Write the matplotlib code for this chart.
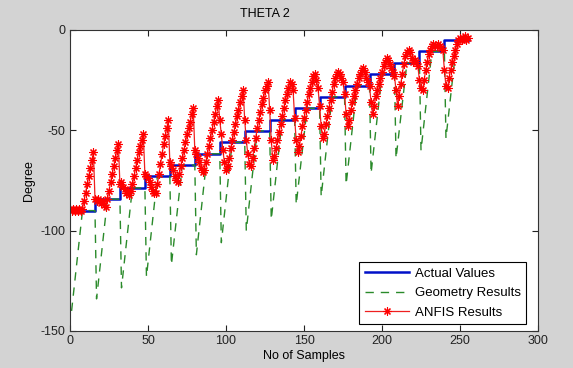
import numpy as np
import matplotlib
matplotlib.use('Agg')
import matplotlib.pyplot as plt

plt.rcParams['font.family'] = ['Liberation Sans', 'DejaVu Sans']
plt.rcParams['axes.unicode_minus'] = False

# step edges (samples) and the actual angle on each step
step_edges = [0, 16, 32, 48, 64, 80, 96, 112, 128, 144, 160, 176, 192, 208, 224, 240, 256]
actual_levels = [-90, -84.3, -78.7, -73, -67.3, -61.7, -56, -50.3,
                 -44.7, -39, -33.3, -27.7, -22, -16.3, -10.7, -5]

# geometry result: deepest value right after each step
geo_dips = [-140, -134, -128.5, -123, -117, -112, -106, -100,
            -94.5, -87, -83, -77, -71.4, -64, -60, -54]

# ANFIS output, one row per step (16 samples each)
anfis_rows = [
    [-89, -90, -89, -90, -89, -90, -89, -90, -89, -85, -81, -77, -73, -69, -65, -61],
    [-84, -85, -84, -85, -86, -85, -87, -88, -84, -80, -76, -72, -68, -64, -60, -57],
    [-77, -76, -78, -79, -81, -80, -82, -80, -77, -73, -69, -65, -61, -58, -55, -52],
    [-72, -73, -74, -76, -78, -80, -81, -81, -77, -72, -67, -62, -57, -53, -49, -45],
    [-66, -68, -70, -73, -75, -76, -72, -68, -64, -60, -56, -52, -49, -46, -42, -39],
    [-60, -62, -64, -66, -69, -71, -70, -66, -62, -58, -54, -50, -46, -42, -38, -35],
    [-45, -52, -60, -66, -70, -68, -64, -59, -55, -51, -47, -43, -40, -36, -33, -30],
    [-45, -55, -62, -67, -68, -64, -59, -54, -49, -45, -41, -37, -34, -30, -28, -26],
    [-40, -55, -65, -63, -59, -55, -51, -47, -43, -39, -35, -32, -29, -26, -27, -30],
    [-44, -55, -61, -58, -53, -48, -44, -40, -36, -32, -29, -26, -23, -22, -25, -29],
    [-38, -48, -54, -52, -47, -43, -39, -35, -31, -27, -24, -22, -21, -22, -24, -26],
    [-32, -42, -48, -45, -40, -36, -33, -30, -27, -24, -22, -20, -19, -21, -24, -26],
    [-28, -36, -42, -38, -33, -30, -27, -24, -21, -18, -16, -14, -15, -17, -19, -21],
    [-23, -30, -38, -33, -27, -22, -17, -13, -11, -10, -11, -14, -16, -15, -16, -18],
    [-25, -29, -30, -25, -20, -16, -12, -10, -8, -7, -8, -8, -7, -8, -9, -10],
    [-20, -28, -29, -24, -20, -16, -13, -10, -7, -5, -4, -5, -4, -3, -5, -4],
]

# actual values as a staircase
act_x = step_edges
act_y = actual_levels + [actual_levels[-1]]

# geometry polyline: drop at each step, climb back over ~7 samples
geo_x, geo_y = [], []
for k, (s, lev, dip) in enumerate(zip(step_edges[:-1], actual_levels, geo_dips)):
    if k > 0:
        geo_x.append(s)
        geo_y.append(actual_levels[k - 1])
    geo_x += [s + 1, s + 8, s + 15]
    geo_y += [dip, lev, lev]

anfis_y = np.concatenate(anfis_rows)
anfis_x = np.arange(len(anfis_y))

fig = plt.figure(figsize=(5.73, 3.68), dpi=100, facecolor='#d3d3d3')
ax = fig.add_axes([0.1222, 0.1006, 0.8167, 0.8179])
ax.set_facecolor('white')

ax.plot(act_x, act_y, drawstyle='steps-post', color='#0010c8', lw=1.8,
        label='Actual Values')
geo, = ax.plot(geo_x, geo_y, color='#2a8a2a', lw=1.0, label='Geometry Results')
geo.set_dashes([6, 5])
ax.plot(anfis_x, anfis_y, color='#ee2020', lw=0.9, marker=(8, 2, 0), markersize=5.8,
        markeredgewidth=0.8, markeredgecolor='red', label='ANFIS Results')

ax.set_xlim(0, 300)
ax.set_ylim(-150, 0)
ax.set_xticks([0, 50, 100, 150, 200, 250, 300])
ax.set_yticks([-150, -100, -50, 0])
ax.tick_params(direction='in', top=True, right=True, length=4, labelsize=9,
               pad=3, colors='#222222')
for sp in ax.spines.values():
    sp.set_linewidth(0.8)
    sp.set_color('#333333')

fig.text(265 / 573, 1 - 14 / 368, 'THETA 2', ha='center', va='center', fontsize=9)
ax.set_xlabel('No of Samples', fontsize=9, labelpad=2)
ax.set_ylabel('Degree', fontsize=9, labelpad=4)

leg = ax.legend(loc='lower right', bbox_to_anchor=(526 / 573, 1 - 324 / 368),
                bbox_transform=fig.transFigure, fontsize=9.5, frameon=True,
                fancybox=False, edgecolor='black', framealpha=1, borderaxespad=0,
                handlelength=3.4, labelspacing=0.55, borderpad=0.4,
                handletextpad=0.4)
leg.get_frame().set_linewidth(0.8)

fig.savefig('out.png', dpi=100, facecolor=fig.get_facecolor())
